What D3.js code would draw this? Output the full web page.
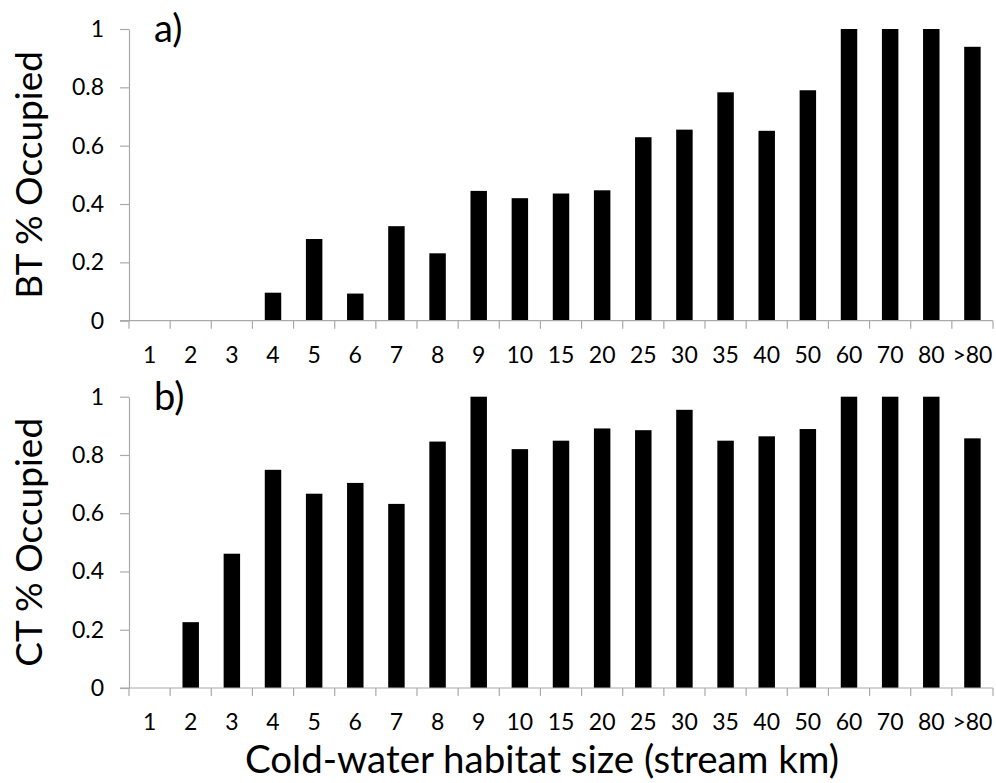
<!DOCTYPE html>
<html>
<head>
<meta charset="utf-8">
<script src="https://cdn.jsdelivr.net/npm/d3@7"></script>
<style>
    body { margin: 0; background: #fff; }
    svg text { font-family: Lato, "Open Sans", sans-serif; fill: #000; }
    .axis path, .axis line { stroke: #aaa; stroke-width: 1.2; }
</style>
</head>
<body>
<div id="chart"></div>
<script>
// categories (stream km bins)
let sizeBins = ['1', '2', '3', '4', '5', '6', '7', '8', '9', '10', '15', '20', '25', '30', '35', '40', '50', '60', '70', '80', '>80'];

// proportion occupied
let btOccupied = [0, 0, 0, 0.096, 0.28, 0.093, 0.324, 0.231, 0.445, 0.42, 0.436, 0.447, 0.629, 0.655, 0.783, 0.651, 0.79, 1, 1, 1, 0.939];
let ctOccupied = [0, 0.226, 0.461, 0.749, 0.667, 0.704, 0.632, 0.846, 1, 0.82, 0.849, 0.891, 0.885, 0.955, 0.849, 0.864, 0.889, 1, 1, 1, 0.857];

let yTicks = [0, 0.2, 0.4, 0.6, 0.8, 1];

let width = 996, height = 783;

let svg = d3.select('#chart').append('svg')
    .attr('width', width)
    .attr('height', height);

let x = d3.scaleBand()
    .domain(sizeBins)
    .range([129, 993])
    .paddingInner(0.6)
    .paddingOuter(0.3);

// x ticks sit on band edges, so use a second scale with no padding
let xEdge = d3.scaleBand()
    .domain(sizeBins)
    .range([129, 993]);

function drawPanel(values, top, bottom, label, yTitle) {
    let y = d3.scaleLinear()
        .domain([0, 1])
        .range([bottom, top]);

    let g = svg.append('g');

    // bars
    g.selectAll('.bar')
        .data(values)
        .enter()
        .append('rect')
        .attr('class', 'bar')
        .attr('x', (d, i) => x(sizeBins[i]))
        .attr('width', x.bandwidth())
        .attr('y', d => y(d))
        .attr('height', d => y(0) - y(d))
        .attr('fill', '#000');

    // y axis
    let yAxis = g.append('g')
        .attr('class', 'axis')
        .attr('transform', 'translate(129,0)')
        .call(d3.axisLeft(y).tickValues(yTicks).tickSize(9).tickPadding(16).tickSizeOuter(0)
            .tickFormat(d => d3.format('')(d)));
    yAxis.selectAll('text').style('font-size', '23px');

    // x axis, ticks at band boundaries
    let xAxis = g.append('g')
        .attr('class', 'axis')
        .attr('transform', `translate(0,${bottom})`);
    xAxis.append('line')
        .attr('x1', 120).attr('x2', 993)
        .attr('y1', 0).attr('y2', 0);
    let edges = sizeBins.map(b => xEdge(b)).concat([993]);
    xAxis.selectAll('.tick-mark')
        .data(edges)
        .enter()
        .append('line')
        .attr('class', 'tick-mark')
        .attr('x1', d => d).attr('x2', d => d)
        .attr('y1', 0).attr('y2', 8);
    xAxis.selectAll('.tick-label')
        .data(sizeBins)
        .enter()
        .append('text')
        .attr('class', 'tick-label')
        .attr('x', d => xEdge(d) + xEdge.bandwidth() / 2)
        .attr('y', 34)
        .attr('dy', '0.35em')
        .attr('text-anchor', 'middle')
        .style('font-size', '23px')
        .text(d => d);

    // panel label
    g.append('text')
        .attr('x', 154)
        .attr('y', top + 13)
        .style('font-size', '38px')
        .text(label);

    // y title
    g.append('text')
        .attr('transform', `translate(42,${(top + bottom) / 2}) rotate(-90)`)
        .attr('text-anchor', 'middle')
        .style('font-size', '37px')
        .text(yTitle);
}

drawPanel(btOccupied, 29, 320.7, 'a)', 'BT % Occupied');
drawPanel(ctOccupied, 396.7, 688, 'b)', 'CT % Occupied');

// shared x title
svg.append('text')
    .attr('x', 542)
    .attr('y', 773)
    .attr('text-anchor', 'middle')
    .style('font-size', '38.5px')
    .text('Cold-water habitat size (stream km)');
</script>
</body>
</html>
